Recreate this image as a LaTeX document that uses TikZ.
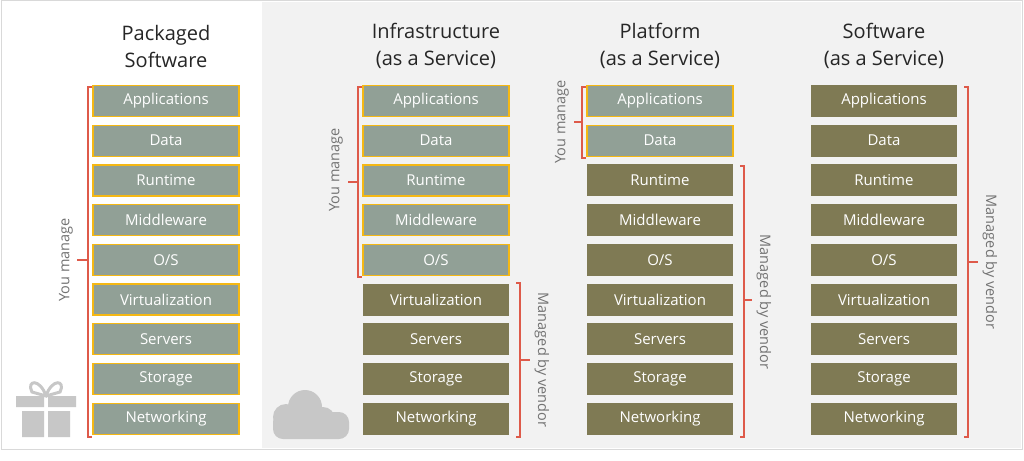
\documentclass[tikz,border=0pt]{standalone}
\usepackage{fontspec}
\setmainfont{Open Sans}
\begin{document}
\begin{tikzpicture}[x=1pt,y=-1pt,
 you/.style={draw=bordy,line width=1.2pt,fill=boxg,minimum width=146pt,minimum height=31pt,text=white,font=\fontsize{15}{17}\selectfont,inner sep=0pt},
 ven/.style={fill=boxo,minimum width=146pt,minimum height=32pt,text=white,font=\fontsize{15}{17}\selectfont,inner sep=0pt},
 br/.style={draw=brred,line width=1.2pt},
 lab/.style={text=gray!90!black,font=\fontsize{14.5}{16}\selectfont},
 ttl/.style={font=\fontsize{20}{27}\selectfont,align=center,text=black!85}]
\definecolor{boxg}{RGB}{145,160,150}
\definecolor{boxo}{RGB}{127,122,84}
\definecolor{brred}{RGB}{222,90,74}
\definecolor{bordy}{RGB}{245,184,20}
\useasboundingbox (0,0) rectangle (1024,460);
\fill[white] (0,0) rectangle (1024,460);
\draw[gray!30,line width=1pt] (1,1) rectangle (1022,449);
\fill[black!5] (262,2) rectangle (1021,448);
\node[ttl] (t1) at (166,46) {Packaged\\Software};
\node[ttl] (t2) at (436,46) {Infrastructure\\(as a Service)};
\node[ttl] (t3) at (660,46) {Platform\\(as a Service)};
\node[ttl] (t4) at (884,46) {Software\\(as a Service)};
\def\names{Applications,Data,Runtime,Middleware,O/S,Virtualization,Servers,Storage,Networking}
\foreach \col/\cx/\nyou in {a/166/9,b/436/5,c/660/2,d/884/0}{
 \foreach \t [count=\i] in \names {
  \pgfmathsetmacro\yy{101+(\i-1)*39.7}
  \ifnum\i>\nyou
   \node[ven] (\col\i) at (\cx,\yy) {\t};
  \else
   \node[you] (\col\i) at (\cx,\yy) {\t};
  \fi
 }}
% brackets
\coordinate (p1) at (88,87); \coordinate (p2) at (88,437);
\draw[br] ([xshift=4pt]p1) -- (p1) -- (p2) -- ([xshift=4pt]p2);
\draw[br] (88,260) -- (77,260);
\node[lab,rotate=90] (l1) at (66,260) {You manage};
\draw[br] (362,87) -- (358,87) -- (358,277) -- (362,277);
\draw[br] (358,182) -- (348,182);
\node[lab,rotate=90] (l2) at (336,170) {You manage};
\draw[br] (516,283) -- (520,283) -- (520,437) -- (516,437);
\draw[br] (520,360) -- (530,360);
\node[lab,rotate=-90] (l3) at (542,360) {Managed by vendor};
\draw[br] (586,87) -- (582,87) -- (582,158) -- (586,158);
\draw[br] (582,122) -- (574,122);
\node[lab,rotate=90] (l4) at (562,122) {You manage};
\draw[br] (740,166) -- (744,166) -- (744,437) -- (740,437);
\draw[br] (744,300) -- (752,300);
\node[lab,rotate=-90] (l5) at (764,302) {Managed by vendor};
\draw[br] (964,87) -- (968,87) -- (968,437) -- (964,437);
\draw[br] (968,262) -- (978,262);
\node[lab,rotate=-90] (l6) at (990,262) {Managed by vendor};
% gift
\fill[black!22] (16,396) rectangle (44,407) (48,396) rectangle (76,407)
 (22,411) rectangle (44,437) (48,411) rectangle (70,437);
\draw[black!22,line width=3pt] (46,396) .. controls (40,378) and (26,380) .. (32,392) -- (46,396)
 .. controls (52,378) and (66,380) .. (60,392) -- (46,396);
% cloud
\fill[black!22] (286,417) circle (13);
\fill[black!22] (305,407) circle (17);
\fill[black!22] (323,419) circle (12);
\fill[black!22,rounded corners=10pt] (273,412) rectangle (349,439);
\end{tikzpicture}
\end{document}
